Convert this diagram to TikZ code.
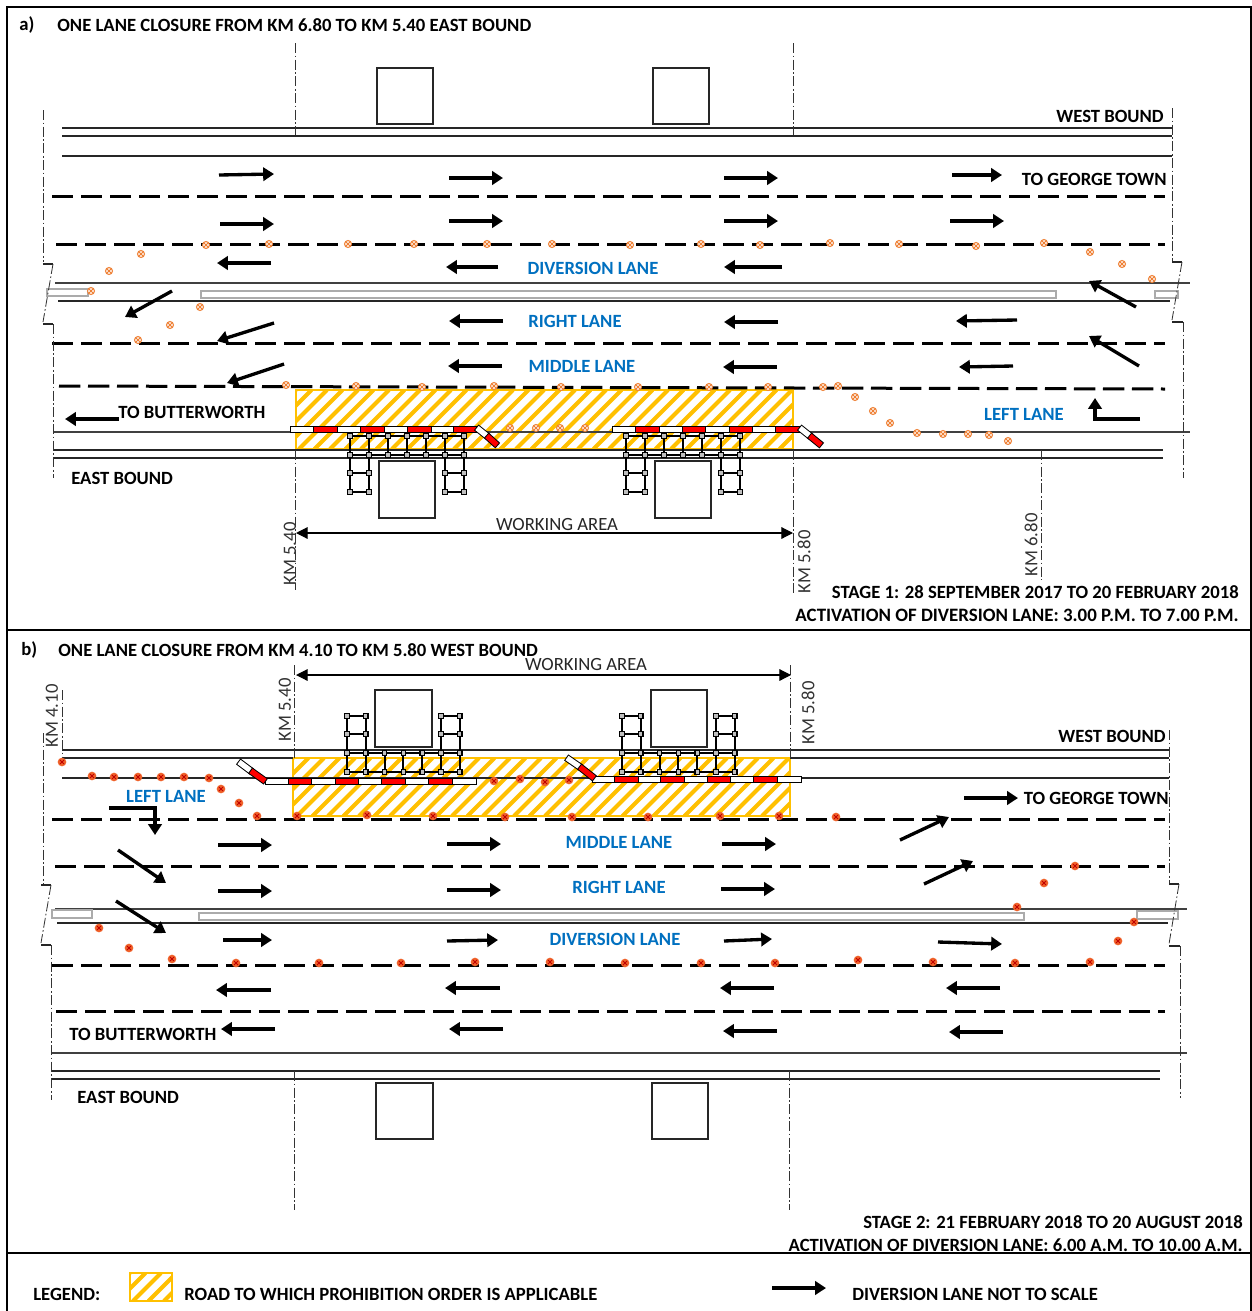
\documentclass[tikz,border=0pt]{standalone}
\usepackage{fontspec}
\setmainfont{Carlito}
\usetikzlibrary{arrows.meta}
\definecolor{hatchc}{HTML}{FFC000}
\definecolor{bluec}{HTML}{0070C0}
\definecolor{dota}{HTML}{EE7F33}
\definecolor{dotafill}{HTML}{FFF4EC}
\definecolor{dotb}{HTML}{F0622A}
\definecolor{dotbx}{HTML}{C00000}
\definecolor{roadc}{HTML}{404040}
\definecolor{medc}{HTML}{ABABAB}
\tikzset{
  lbl/.style={font=\fontsize{11.2}{13}\selectfont\bfseries,inner sep=0pt,anchor=west,text=black},
  lblr/.style={lbl,anchor=east},
  lane/.style={lbl,anchor=center,text=bluec},
  km/.style={font=\fontsize{11.2}{13}\selectfont,inner sep=0pt,rotate=90,anchor=center,text=black!80},
  wa/.style={font=\fontsize{11.2}{13}\selectfont,inner sep=0pt,anchor=center,text=black!85},
  thinroad/.style={line width=0.65pt,black!85},
  roadline/.style={line width=0.9pt,roadc},
  dashroad/.style={line width=1.8pt,black,dash pattern=on 12.8pt off 4.6pt},
  dd/.style={line width=0.5pt,black!80,dash pattern=on 6pt off 1.5pt on 1pt off 1.5pt},
  frm/.style={line width=0.9pt,black},
  boxs/.style={line width=0.7pt,draw=black!85,fill=white},
  med/.style={line width=1.6pt,draw=medc},
  arrowb/.style={line width=2pt,black,-{Triangle[length=6.5pt,width=8pt]}},
  dimar/.style={line width=0.7pt,black,{Triangle[length=7pt,width=7pt]}-{Triangle[length=7pt,width=7pt]}},
  hx/.style={line width=2.5pt,hatchc},
  hb/.style={line width=1pt,draw=hatchc},
  sc/.style={line width=0.85pt,black},
}
\newcommand{\hatchrect}[4]{%
  \begin{scope}
    \clip (#1,#2) rectangle (#3,#4);
    \pgfmathsetmacro{\hh}{#4-#2}
    \pgfmathsetmacro{\ha}{#1-\hh-15.5}
    \pgfmathsetmacro{\hb}{\ha+15.5}
    \foreach \hxx in {\ha,\hb,...,#3} \draw[hx] (\hxx,#4) -- ++(\hh,-\hh);
  \end{scope}
  \draw[hb] (#1,#2) rectangle (#3,#4);}
\newcommand{\dota}[2]{\draw[line width=0.6pt,dota,fill=dotafill] (#1,#2) circle[radius=2.1pt];
  \draw[line width=0.6pt,dota] (#1-2.3,#2-2.3) -- (#1+2.3,#2+2.3) (#1-2.3,#2+2.3) -- (#1+2.3,#2-2.3);}
\newcommand{\dotb}[2]{\fill[dotb] (#1,#2) circle[radius=2.6pt];
  \draw[line width=0.55pt,dotbx] (#1-2.1,#2-2.1) -- (#1+2.1,#2+2.1) (#1-2.1,#2+2.1) -- (#1+2.1,#2-2.1);}
\newcommand{\bseg}[4]{\filldraw[line width=0.6pt,draw=black,fill=#4] (#1,#3-3) rectangle (#2,#3+3);}
\newcommand{\slab}[5]{\draw[line width=4.4pt,black,shorten <=-0.6pt,shorten >=-0.6pt] (#1,#2) -- (#3,#4);
  \draw[line width=3.2pt,#5] (#1,#2) -- (#3,#4);}
\newcommand{\sq}[2]{\draw[line width=0.8pt,draw=black,fill=black!25] (#1-2.2,#2-2.2) rectangle (#1+2.2,#2+2.2);}
\newcommand{\scaffold}[7]{%
  \pgfmathsetmacro{\sa}{#1}\pgfmathsetmacro{\sb}{#1+#2}
  \pgfmathsetmacro{\sc}{#1+2*#2}\pgfmathsetmacro{\sd}{#1+3*#2}\pgfmathsetmacro{\se}{#1+4*#2}
  \pgfmathsetmacro{\sf}{#1+5*#2}\pgfmathsetmacro{\sg}{#1+6*#2}
  \draw[sc] (\sa,#3) -- (\sg,#3) (\sa,#4) -- (\sg,#4);
  \draw[sc] (\sa,#5) -- (\sb,#5) (\sa,#6) -- (\sb,#6) (\sf,#5) -- (\sg,#5) (\sf,#6) -- (\sg,#6);
  \foreach \q in {\sa,\sb,\sf,\sg} \draw[sc] (\q,#3) -- (\q,#6) (\q,#3) -- (\q,#4);
  \foreach \q in {\sc,\sd,\se} \draw[sc,line width=1.1pt] (\q,#3) -- (\q,#4);
  \foreach \q in {\sa,\sb,\sc,\sd,\se,\sf,\sg} {\sq{\q}{#3}\sq{\q}{#4}}
  \foreach \q in {\sa,\sb,\sf,\sg} {\sq{\q}{#5}\sq{\q}{#6}}
}
\begin{document}
\begin{tikzpicture}[x=0.6pt,y=-0.6pt]
\useasboundingbox (0,0) rectangle (1252,1311);
\fill[white] (0,0) rectangle (1252,1311);
% frames
\draw[frm] (7,1311) -- (7,7) -- (1251,7) -- (1251,1311);
\draw[frm] (7,630) -- (1251,630);
\draw[line width=1.3pt,black] (7,1253) -- (1251,1253);

% ---------- PANEL A ----------
\hatchrect{296}{390}{793}{449}
\draw[thinroad] (62,128) -- (1172,128) (62,136) -- (1172,136) (62,156) -- (1172,156);
\draw[dashroad] (52,196) -- (1165,196);
\draw[dashroad] (56,244) -- (1165,244);
\draw[roadline] (55,283) -- (1190,283);
\draw[thinroad] (58,301) -- (1170,301);
\draw[med] (47,289) rectangle (88,296) (201,291) rectangle (1056,298) (1155,291) rectangle (1178,298);
\draw[dashroad] (52,343) -- (1165,343);
\draw[dashroad] (59,386) -- (1165,389);
\draw[roadline] (53,432) -- (1190,432);
\draw[thinroad] (53,450) -- (1163,450) (53,458) -- (1163,458);
% dash-dot verticals
\draw[dd] (43,110) -- (43,262);
\draw[thinroad] (43,264) -- (53,264);
\draw[dd] (53,264) -- (43,322);
\draw[thinroad] (43,324) -- (53,324);
\draw[dd] (53,324) -- (53,478);
\draw[dd] (1172,108) -- (1172,262);
\draw[thinroad] (1172,262) -- (1182,262);
\draw[dd] (1182,262) -- (1172,320);
\draw[thinroad] (1172,322) -- (1183,322);
\draw[dd] (1183,322) -- (1183,478);
\draw[dd] (295,43) -- (295,135) (793,43) -- (793,135);
\draw[dd] (295,450) -- (295,590) (793,450) -- (793,595) (1041,450) -- (1041,580);
% boxes top
\draw[boxs] (377,68) rectangle (433,124) (653,68) rectangle (709,124);
% scaffold
\scaffold{350}{19}{436}{455}{473}{492}{}
\scaffold{626}{19}{436}{455}{473}{492}{}
\draw[boxs] (379,461) rectangle (435,518) (655,461) rectangle (711,518);
% barriers
\foreach \a/\b/\c in {290/313/white,313/337/red,337/360/white,360/384/red,384/407/white,407/431/red,431/453/white,453/476/red,612/635/white,635/659/red,659/682/white,682/705/red,705/729/white,729/752/red,752/775/white,775/799/red} {\bseg{\a}{\b}{429}{\c}}
\slab{477}{428}{487}{436}{white}
\slab{487}{436}{497}{445}{red}
\slab{800}{428}{810}{436}{white}
\slab{810}{436}{821}{445}{red}
% dots
\foreach \u/\v in {91/291,109/271,141/254,200/307,170/325,138/340,206/245,269/244,348/244,414/244,487/244,552/244,630/245,701/244,760/245,830/243,899/244,976/246,1044/243,1090/252,1122/264,1152/279,286/385,356/386,422/387,494/386,561/387,638/387,709/387,768/387,823/387,838/386,855/397,873/411,890/423,917/433,943/434,968/434,989/435,1008/441,510/428,536/428,560/428,585/428} {\dota{\u}{\v}}
% arrows
\foreach \p/\q/\r/\s in {219/175/274/174,449/178/503/178,724/178/778/178,952/175/1002/175,220/224/274/224,449/221/503/221,724/221/778/221,950/221/1004/221,271/263/217/263,498/267/446/267,782/267/724/267,172/291/125/317,274/323/217/341,284/364/227/383,503/321/449/321,778/322/724/322,1017/320/956/321,1136/307/1089/281,502/366/448/366,777/367/723/367,1013/366/959/367,1139/366/1089/336,119/419/65/419} {\draw[arrowb] (\p,\q) -- (\r,\s);}
\draw[arrowb] (1140,419) -- (1095,419) -- (1095,398);
\draw[dimar] (296,533) -- (793,533);
% labels
\node[lbl] (aa) at (19,25) {a)};
\node[lbl] (atitle) at (57,25) {ONE LANE CLOSURE FROM KM 6.80 TO KM 5.40 EAST BOUND};
\node[lblr] (awb) at (1164,116) {WEST BOUND};
\node[lblr] (agt) at (1167,179) {TO GEORGE TOWN};
\node[lbl] (abw) at (118,412) {TO BUTTERWORTH};
\node[lbl] (aeb) at (71,478) {EAST BOUND};
\node[lane] (adl) at (593,268) {DIVERSION LANE};
\node[lane] (arl) at (575,321) {RIGHT LANE};
\node[lane] (aml) at (582,366) {MIDDLE LANE};
\node[lane] (all) at (1024,414) {LEFT LANE};
\node[wa] (awa) at (557,524) {WORKING AREA};
\node[km] (ak1) at (290,554) {KM 5.40};
\node[km] (ak2) at (804,562) {KM 5.80};
\node[km] (ak3) at (1031,545) {KM 6.80};
\node[lblr] (as1) at (1239,592) {STAGE 1: 28 SEPTEMBER 2017 TO 20 FEBRUARY 2018};
\node[lblr,font=\fontsize{11.35}{13}\selectfont\bfseries] (as2) at (1239,615) {ACTIVATION OF DIVERSION LANE: 3.00 P.M. TO 7.00 P.M.};

% ---------- PANEL B ----------
\hatchrect{293}{758}{790}{816}
\draw[thinroad] (62,750) -- (1169,750) (62,758) -- (293,758) (790,758) -- (1169,758) (62,778) -- (1169,778);
\draw[dashroad] (52,819) -- (1165,819);
\draw[dashroad] (55,866) -- (1165,866);
\draw[roadline] (55,909) -- (1187,909);
\draw[thinroad] (57,923) -- (1168,923);
\draw[med] (52,910) rectangle (92,918) (199,913) rectangle (1024,920) (1137,911) rectangle (1178,919);
\draw[dashroad] (52,965) -- (1165,965);
\draw[dashroad] (56,1011) -- (1165,1011);
\draw[roadline] (52,1053) -- (1187,1053);
\draw[thinroad] (52,1071) -- (1160,1071) (52,1079) -- (1160,1079);
\draw[dd] (43,733) -- (43,884);
\draw[thinroad] (41,885) -- (51,885);
\draw[dd] (51,885) -- (41,943);
\draw[thinroad] (41,945) -- (51,945);
\draw[dd] (51,945) -- (51,1100);
\draw[dd] (62,690) -- (62,762);
\draw[dd] (1169,730) -- (1169,884);
\draw[thinroad] (1169,884) -- (1179,884);
\draw[dd] (1179,884) -- (1169,944);
\draw[thinroad] (1169,946) -- (1180,946);
\draw[dd] (1180,946) -- (1180,1098);
\draw[dd] (294,665) -- (294,758) (790,665) -- (790,758);
\draw[dd] (294,1071) -- (294,1210) (789,1071) -- (789,1210);
\draw[boxs] (376,1083) rectangle (433,1139) (652,1083) rectangle (708,1139);
\scaffold{347}{18.8}{753}{772}{734}{716}{}
\scaffold{622}{18.8}{753}{772}{734}{716}{}
\draw[boxs] (375,690) rectangle (432,747) (651,690) rectangle (707,747);
\foreach \a/\b/\c in {265/288/white,288/311/red,311/335/white,335/358/red,358/381/white,381/405/red,405/428/white,428/452/red,452/476/white} {\bseg{\a}{\b}{781.5}{\c}}
\foreach \a/\b/\c in {592/614/white,614/638/red,638/660/white,660/684/red,684/707/white,707/730/red,730/753/white,753/777/red,777/801/white} {\bseg{\a}{\b}{779.5}{\c}}
\slab{239}{762}{251}{771}{white}
\slab{251}{771}{265}{781}{red}
\slab{567}{758}{580}{767}{white}
\slab{580}{767}{594}{778}{red}
\foreach \u/\v in {62/762,92/776,114/777,138/777,161/777,184/777,209/778,221/789,239/803,257/816,297/816,367/815,433/816,505/817,572/817,648/817,720/816,779/816,836/817,494/781,520/779,545/782,569/780,99/928,129/948,172/959,236/963,319/963,401/963,475/962,550/962,625/963,701/963,775/963,858/960,933/962,1015/963,1090/962,1118/941,1134/922,1017/907,1044/883,1075/866} {\dotb{\u}{\v}}
\foreach \p/\q/\r/\s in {218/845/272/845,447/844/501/844,722/844/776/844,218/891/272/891,447/890/501/890,721/889/775/889,223/940/272/940,447/941/498/940,724/941/772/939,938/942/1002/944,964/798/1018/798,900/840/949/817,924/884/973/861,118/850/166/883,116/901/166/933,271/990/216/990,500/988/445/988,774/988/720/988,1000/988/946/988,275/1029/221/1029,503/1029/449/1029,777/1031/723/1031,1003/1032/949/1032} {\draw[arrowb] (\p,\q) -- (\r,\s);}
\draw[arrowb] (109,808) -- (155,808) -- (155,835);
\draw[dimar] (296,675) -- (791,675);
\node[lbl] (bb) at (21,650) {b)};
\node[lbl] (btitle) at (58,650) {ONE LANE CLOSURE FROM KM 4.10 TO KM 5.80 WEST BOUND};
\node[lblr] (bwb) at (1166,736) {WEST BOUND};
\node[lblr] (bgt) at (1169,798) {TO GEORGE TOWN};
\node[lbl] (bbw) at (69,1034) {TO BUTTERWORTH};
\node[lbl] (beb) at (77,1097) {EAST BOUND};
\node[lane] (bll) at (166,796) {LEFT LANE};
\node[lane] (bml) at (619,842) {MIDDLE LANE};
\node[lane] (brl) at (619,887) {RIGHT LANE};
\node[lane] (bdl) at (615,939) {DIVERSION LANE};
\node[wa] (bwa) at (586,664) {WORKING AREA};
\node[km] (bk0) at (52,716) {KM 4.10};
\node[km] (bk1) at (285,710) {KM 5.40};
\node[km] (bk2) at (808,713) {KM 5.80};
\node[lblr] (bs1) at (1243,1222) {STAGE 2: 21 FEBRUARY 2018 TO 20 AUGUST 2018};
\node[lblr] (bs2) at (1243,1245) {ACTIVATION OF DIVERSION LANE: 6.00 A.M. TO 10.00 A.M.};

% ---------- LEGEND ----------
\hatchrect{130}{1273}{172}{1301}
\node[lbl] (lg) at (33,1294) {LEGEND:};
\node[lbl] (lg1) at (184,1294) {ROAD TO WHICH PROHIBITION ORDER IS APPLICABLE};
\draw[arrowb] (772,1288) -- (826,1288);
\node[lbl] (lg2) at (852,1294) {DIVERSION LANE NOT TO SCALE};
\end{tikzpicture}
\end{document}
